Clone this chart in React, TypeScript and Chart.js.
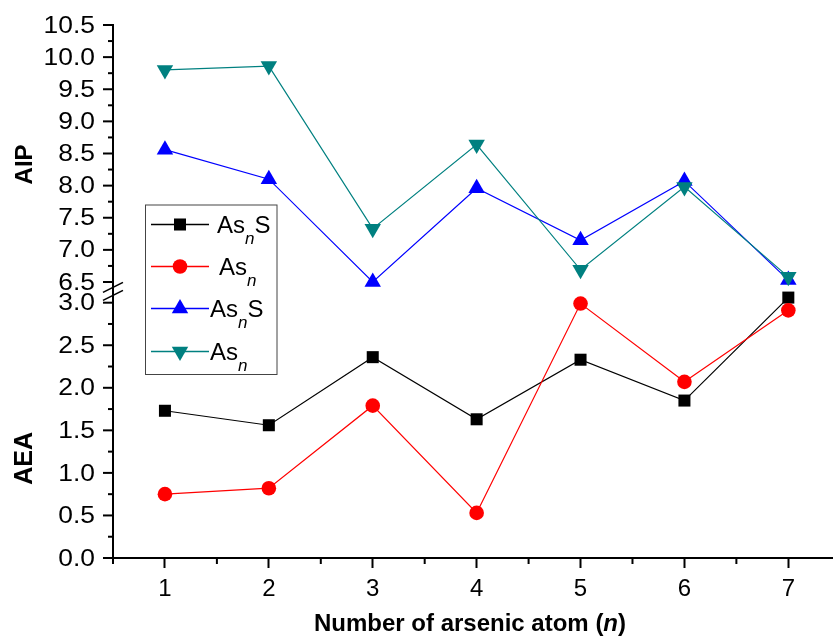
import React, { useEffect, useRef } from 'react';
import { Chart, registerables } from 'chart.js';

Chart.register(...registerables);

const FONT = '"Liberation Sans", Arial, Helvetica, sans-serif';

// ---- data ----
const atoms = [1, 2, 3, 4, 5, 6, 7];
const aeaAsnS = [1.73, 1.56, 2.36, 1.63, 2.33, 1.85, 3.06];
const aeaAsn = [0.75, 0.82, 1.79, 0.53, 2.99, 2.07, 2.91];
const aipAsnS = [8.56, 8.1, 6.5, 7.96, 7.15, 8.07, 6.53];
const aipAsn = [9.8, 9.86, 7.33, 8.64, 6.69, 7.98, 6.58];
const aeaTicks = [0, 0.5, 1.0, 1.5, 2.0, 2.5, 3.0];
const aipTicks = [6.5, 7.0, 7.5, 8.0, 8.5, 9.0, 9.5, 10.0, 10.5];
const xTickLabels = ['1', '2', '3', '4', '5', '6', '7'];
const legendBase = ['As', 'As', 'As', 'As'];
const legendSub = ['n', 'n', 'n', 'n'];
const legendTail = ['S', '', 'S', ''];
const upperTitle = 'AIP';
const lowerTitle = 'AEA';
const xTitleMain = 'Number of arsenic atom (';
const xTitleItalic = 'n';
const xTitleEnd = ')';

const toPoints = (ys: number[]) => atoms.map((x, i) => ({ x, y: ys[i] }));

function drawMarker(ctx: CanvasRenderingContext2D, style: string, rotation: number, r: number, x: number, y: number, color: string) {
  ctx.save();
  ctx.fillStyle = color;
  ctx.beginPath();
  if (style === 'rect') {
    const s = Math.SQRT1_2 * r;
    ctx.rect(x - s, y - s, 2 * s, 2 * s);
  } else if (style === 'circle') {
    ctx.arc(x, y, r, 0, Math.PI * 2);
  } else {
    let rad = (rotation * Math.PI) / 180;
    ctx.moveTo(x + Math.sin(rad) * r, y - Math.cos(rad) * r);
    rad += (2 * Math.PI) / 3;
    ctx.lineTo(x + Math.sin(rad) * r, y - Math.cos(rad) * r);
    rad += (2 * Math.PI) / 3;
    ctx.lineTo(x + Math.sin(rad) * r, y - Math.cos(rad) * r);
    ctx.closePath();
  }
  ctx.fill();
  ctx.restore();
}

function stretchText(ctx: CanvasRenderingContext2D, text: string, x: number, y: number, sx: number) {
  ctx.save();
  ctx.translate(x, y);
  ctx.scale(sx, 1);
  ctx.fillText(text, 0, 0);
  ctx.restore();
}

const decorPlugin = {
  id: 'decor',
  afterDraw(chart: any) {
    const ctx: CanvasRenderingContext2D = chart.ctx;
    const { left, bottom } = chart.chartArea;
    const yLow = chart.scales.y;
    const yHigh = chart.scales.y2;
    const xs = chart.scales.x;
    ctx.save();
    ctx.strokeStyle = '#000';
    ctx.fillStyle = '#000';
    ctx.lineWidth = 2;
    const ax = left;
    const topPx = yHigh.getPixelForValue(aipTicks[aipTicks.length - 1]);
    ctx.beginPath();
    ctx.moveTo(ax, topPx - 1);
    ctx.lineTo(ax, bottom + 6);
    ctx.stroke();
    const tick = (py: number, len: number) => {
      ctx.beginPath();
      ctx.moveTo(ax, py);
      ctx.lineTo(ax - len, py);
      ctx.stroke();
    };
    ctx.font = `24px ${FONT}`;
    ctx.textAlign = 'right';
    ctx.textBaseline = 'middle';
    const doTicks = (scale: any, ticks: number[]) => {
      ticks.forEach((v, i) => {
        const py = scale.getPixelForValue(v);
        tick(py, 10);
        stretchText(ctx, v.toFixed(1), ax - 18, py + 1, 1.1);
        if (i < ticks.length - 1) tick(scale.getPixelForValue((v + ticks[i + 1]) / 2), 5);
      });
    };
    doTicks(yHigh, aipTicks);
    doTicks(yLow, aeaTicks);
    for (let i = 0; i < atoms.length; i++) {
      const v = atoms[i] - 0.5;
      const px = xs.getPixelForValue(v);
      ctx.beginPath();
      ctx.moveTo(px, bottom);
      ctx.lineTo(px, bottom + 6);
      ctx.stroke();
    }
    const mid = (yHigh.getPixelForValue(aipTicks[0]) + yLow.getPixelForValue(aeaTicks[aeaTicks.length - 1])) / 2;
    ctx.lineWidth = 1.6;
    [mid - 5, mid + 3].forEach((cy) => {
      ctx.beginPath();
      ctx.moveTo(ax - 10, cy + 5);
      ctx.lineTo(ax + 10, cy - 5);
      ctx.stroke();
    });
    ctx.font = `bold 24px ${FONT}`;
    ctx.textAlign = 'center';
    ctx.textBaseline = 'middle';
    const vt = (text: string, cx: number, cy: number) => {
      ctx.save();
      ctx.translate(cx, cy);
      ctx.rotate(-Math.PI / 2);
      ctx.fillText(text, 0, 0);
      ctx.restore();
    };
    vt(upperTitle, 25, yHigh.getPixelForValue(8.33));
    ctx.font = `bold 25px ${FONT}`;
    vt(lowerTitle, 25, yLow.getPixelForValue(1.17));
    ctx.textBaseline = 'alphabetic';
    ctx.textAlign = 'left';
    const fMain = `bold 24px ${FONT}`;
    const fIt = `italic bold 24px ${FONT}`;
    ctx.font = fMain;
    const w1 = ctx.measureText(xTitleMain).width;
    const w3 = ctx.measureText(xTitleEnd).width;
    ctx.font = fIt;
    const w2 = ctx.measureText(xTitleItalic).width;
    const total = w1 + w2 + w3;
    let tx = 470 - total / 2;
    const ty = 631;
    ctx.font = fMain;
    ctx.fillText(xTitleMain, tx, ty);
    tx += w1;
    ctx.font = fIt;
    ctx.fillText(xTitleItalic, tx, ty);
    tx += w2;
    ctx.font = fMain;
    ctx.fillText(xTitleEnd, tx, ty);

    const bx = 145.5, by = 205, bw = 131.5, bh = 169.5;
    ctx.fillStyle = '#fff';
    ctx.fillRect(bx, by, bw, bh);
    ctx.strokeStyle = '#444';
    ctx.lineWidth = 1;
    ctx.strokeRect(bx, by, bw, bh);
    const rowY = [224.5, 266.5, 308.5, 351.5];
    const textX = [217, 219, 210, 210];
    chart.data.datasets.forEach((ds: any, i: number) => {
      const ry = rowY[i];
      ctx.strokeStyle = ds.borderColor;
      ctx.lineWidth = 1.3;
      ctx.beginPath();
      ctx.moveTo(151, ry);
      ctx.lineTo(209, ry);
      ctx.stroke();
      drawMarker(ctx, ds.pointStyle, ds.pointRotation || 0, ds.pointRadius, 180, ry, ds.pointBackgroundColor);
      ctx.fillStyle = '#000';
      let lx = textX[i];
      ctx.font = `24px ${FONT}`;
      ctx.fillText(legendBase[i], lx, ry + 8.5);
      lx += ctx.measureText(legendBase[i]).width;
      ctx.font = `italic 17px ${FONT}`;
      ctx.fillText(legendSub[i], lx, ry + 19);
      lx += ctx.measureText(legendSub[i]).width;
      ctx.font = `24px ${FONT}`;
      ctx.fillText(legendTail[i], lx, ry + 8.5);
    });
    ctx.restore();
  },
};

export default function App() {
  const ref = useRef<HTMLCanvasElement | null>(null);
  useEffect(() => {
    if (!ref.current) return;
    Chart.defaults.font.family = FONT;
    const chart = new Chart(ref.current, {
      type: 'line',
      data: {
        datasets: [
          {
            label: 'AsnS AEA',
            data: toPoints(aeaAsnS),
            yAxisID: 'y',
            borderColor: '#000000',
            backgroundColor: '#000000',
            pointBackgroundColor: '#000000',
            pointBorderColor: '#000000',
            pointStyle: 'rect',
            pointRadius: 8.5,
            borderWidth: 1.2,
            pointBorderWidth: 0,
            order: 3,
          },
          {
            label: 'Asn AEA',
            data: toPoints(aeaAsn),
            yAxisID: 'y',
            borderColor: '#ff0000',
            backgroundColor: '#ff0000',
            pointBackgroundColor: '#ff0000',
            pointBorderColor: '#ff0000',
            pointStyle: 'circle',
            pointRadius: 7.3,
            borderWidth: 1.2,
            pointBorderWidth: 0,
            order: 2,
          },
          {
            label: 'AsnS AIP',
            data: toPoints(aipAsnS),
            yAxisID: 'y2',
            borderColor: '#0000ff',
            backgroundColor: '#0000ff',
            pointBackgroundColor: '#0000ff',
            pointBorderColor: '#0000ff',
            pointStyle: 'triangle',
            pointRadius: 9.5,
            borderWidth: 1.2,
            pointBorderWidth: 0,
            order: 1,
          },
          {
            label: 'Asn AIP',
            data: toPoints(aipAsn),
            yAxisID: 'y2',
            borderColor: '#008080',
            backgroundColor: '#008080',
            pointBackgroundColor: '#008080',
            pointBorderColor: '#008080',
            pointStyle: 'triangle',
            pointRotation: 180,
            pointRadius: 9.5,
            borderWidth: 1.2,
            pointBorderWidth: 0,
            order: 0,
          },
        ],
      },
      options: {
        animation: false,
        responsive: false,
        devicePixelRatio: 1,
        layout: { autoPadding: false, padding: { left: 113, top: 25, right: 0, bottom: 36 } },
        plugins: { legend: { display: false }, tooltip: { enabled: false } },
        elements: { line: { tension: 0 } },
        scales: {
          x: {
            type: 'linear',
            min: 0.5,
            max: 7.43,
            afterBuildTicks: (scale: any) => {
              scale.ticks = atoms.map((v) => ({ value: v }));
            },
            afterFit: (scale: any) => {
              scale.height = 44;
              scale.paddingLeft = 0;
              scale.paddingRight = 0;
            },
            ticks: {
              color: '#000',
              font: { size: 24, family: FONT },
              padding: 7,
              maxRotation: 0,
              autoSkip: false,
              callback: (value: any) => xTickLabels[atoms.indexOf(Number(value))] ?? '',
            },
            grid: {
              display: true,
              drawOnChartArea: false,
              drawTicks: true,
              tickLength: 10,
              tickWidth: 2,
              tickColor: '#000',
            },
            border: { display: true, color: '#000', width: 2 },
          },
          y: { type: 'linear', display: false, min: 0, max: 6.263 },
          y2: { type: 'linear', display: false, min: 2.204, max: 10.5 },
        },
      },
      plugins: [decorPlugin],
    } as any);
    return () => chart.destroy();
  }, []);
  return (
    <div style={{ position: 'absolute', left: 0, top: 0, width: 833, height: 638, background: '#fff' }}>
      <canvas ref={ref} width={833} height={638} style={{ width: 833, height: 638, display: 'block' }} />
    </div>
  );
}
